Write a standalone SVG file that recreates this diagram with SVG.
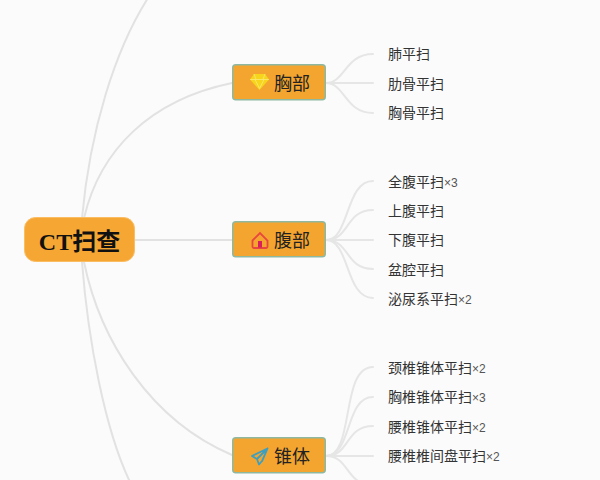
<svg xmlns="http://www.w3.org/2000/svg" width="600" height="480" viewBox="0 0 600 480">
<style>
.bg{fill:#fbfbfb}
.c{fill:none;stroke:#e2e2e2;stroke-width:2;stroke-linecap:round}
.l{fill:none;stroke:#e6e6e6;stroke-width:2;stroke-linecap:round}
.b{fill:#f4a52f;stroke:#8fb8a0;stroke-width:1.5}
.t{font-family:"Liberation Sans","Noto Sans CJK SC",sans-serif;font-size:18px;fill:#222}
.s{font-family:"Liberation Sans","Noto Sans CJK SC",sans-serif;font-size:14px;fill:#333}
.n{font-size:12px;fill:#555}
.m{font-family:"Liberation Serif","Noto Sans CJK SC",serif;font-size:24px;font-weight:bold;fill:#111}
</style>
<rect class="bg" width="600" height="480"/>
<g id="connectors">
<path class="c" d="M82 218C90 130 115 50 148 -2"/>
<path class="c" d="M84 218C100 150 150 100 232 83"/>
<path class="c" d="M134 240H232"/>
<path class="c" d="M84 262C100 340 150 420 232 455"/>
<path class="c" d="M82 262C88 340 105 430 130 482"/>
<path class="l" d="M326 83C345 83 345 54 373 54"/>
<path class="l" d="M326 83H373"/>
<path class="l" d="M326 83C345 83 345 113 373 113"/>
<path class="l" d="M326 240C350 240 345 181 373 181"/>
<path class="l" d="M326 240C350 240 345 210 373 210"/>
<path class="l" d="M326 240H373"/>
<path class="l" d="M326 240C350 240 345 269 373 269"/>
<path class="l" d="M326 240C350 240 345 298 373 298"/>
<path class="l" d="M326 456C355 456 340 367 373 367"/>
<path class="l" d="M326 456C352 456 345 397 373 397"/>
<path class="l" d="M326 456C350 456 345 426 373 426"/>
<path class="l" d="M326 456H373"/>
<path class="l" d="M326 456C350 456 345 485 373 485"/>
</g>
<g id="root"><rect x="24.500" y="217.500" width="110" height="44" rx="11" fill="#f6a733" stroke="#fbbd62"/><text class="m" x="79.500" y="250" text-anchor="middle">CT扫查</text></g>
<g id="chest"><rect class="b" x="232.750" y="64.750" width="92.500" height="35" rx="3"/>
<path d="M254 74h11l4 5.500-9.500 10.500L250 79.500z" fill="#f7d51d"/><path d="M250 79.500h19M255 79.500l4.500 9 4.500-9M254 74l2 5.500M265 74l-2 5.500" fill="none" stroke="#f9e97a" stroke-width=".8"/>
<text class="t" x="274" y="90">胸部</text></g>
<g id="abdomen"><rect class="b" x="232.750" y="221.750" width="92.500" height="35" rx="3"/>
<path d="M252.500 240.500L260 233l7.500 7.500v6a1.500 1.500 0 0 1-1.500 1.500h-12a1.500 1.500 0 0 1-1.500-1.500z" fill="none" stroke="#e8473f" stroke-width="1.800"/><rect x="258" y="241" width="4" height="6.500" fill="#d81e5b"/>
<text class="t" x="274" y="247">腹部</text></g>
<g id="cone"><rect class="b" x="232.750" y="437.750" width="92.500" height="35" rx="3"/>
<path d="M267.500 448.500L252 456l5 3 2 5.500 3-3.500zM257 459l10.500-10.500-5.500 13" fill="none" stroke="#3d9fc0" stroke-width="1.800" stroke-linejoin="round"/>
<text class="t" x="274" y="463">锥体</text></g>
<g id="leaves">
<text class="s" x="388" y="59">肺平扫</text>
<text class="s" x="388" y="89">肋骨平扫</text>
<text class="s" x="388" y="118">胸骨平扫</text>
<text class="s" x="388" y="187">全腹平扫<tspan class="n">×3</tspan></text>
<text class="s" x="388" y="216">上腹平扫</text>
<text class="s" x="388" y="245">下腹平扫</text>
<text class="s" x="388" y="275">盆腔平扫</text>
<text class="s" x="388" y="304">泌尿系平扫<tspan class="n">×2</tspan></text>
<text class="s" x="388" y="373">颈椎锥体平扫<tspan class="n">×2</tspan></text>
<text class="s" x="388" y="402">胸椎锥体平扫<tspan class="n">×3</tspan></text>
<text class="s" x="388" y="432">腰椎锥体平扫<tspan class="n">×2</tspan></text>
<text class="s" x="388" y="461">腰椎椎间盘平扫<tspan class="n">×2</tspan></text>
</g>
</svg>
